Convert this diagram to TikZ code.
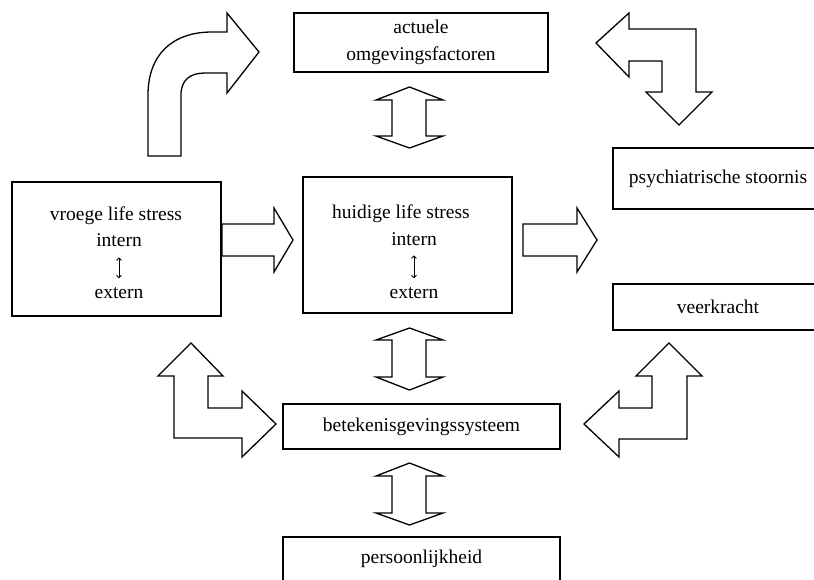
\documentclass[tikz,border=0pt]{standalone}
\usepackage{fontspec}
\setmainfont{Liberation Serif}
\usepackage{tikz}
\usetikzlibrary{calc}
\usetikzlibrary{arrows.meta}

\begin{document}
\begin{tikzpicture}[x=1pt,y=-1pt,
        box/.style={draw=black,line width=1.3pt,inner sep=0pt,align=center,font=\fontsize{19.5}{27}\selectfont},
        txt/.style={inner sep=0pt,anchor=base,font=\fontsize{19.5}{27}\selectfont},
        fat/.style={draw=black,line width=1.3pt,line join=miter},
        pijltje/.style={line width=0.8pt,{Straight Barb[length=2.5pt,width=5pt]}-{Straight Barb[length=2.5pt,width=5pt]}}]
            \useasboundingbox (0,0) rectangle (814,579);

            % Place the boxes
            \node[box,minimum width=254,minimum height=59] (omg) at (421,42.5) {actuele\\omgevingsfactoren};
            \node[box,minimum width=209,minimum height=134] (vroeg) at (116.5,249) {};
            \node[box,minimum width=209,minimum height=136] (huidig) at (407.5,245) {};
            \node[box,minimum width=210,minimum height=61] (psych) at (718,178.5) {psychiatrische stoornis};
            \node[box,minimum width=210,minimum height=46] (veer) at (718,307) {veerkracht};
            \node[box,minimum width=277,minimum height=45] (bet) at (421.5,426.5) {betekenisgevingssysteem};
            \node[box,minimum width=277,minimum height=44] (pers) at (421.5,559) {persoonlijkheid};

            % Text in the stress boxes
            \node[txt] (vtitel) at (116,220) {vroege life stress};
            \node[txt] (vin) at (119,246) {intern};
            \node[txt] (vex) at (119,298) {extern};
            \node[txt] (htitel) at (401,218) {huidige life stress};
            \node[txt] (hin) at (414,245) {intern};
            \node[txt] (hex) at (414,298) {extern};
            \draw[pijltje,shorten <=11pt,shorten >=8.5pt] (vin.south) -- (vex.north);
            \draw[pijltje,shorten <=10pt,shorten >=8.5pt] (hin.south) -- (hex.north);

            % The straight arrows
            \draw[fat] (222,224) -- (274,224) -- (274,208) -- (293,240) -- (274,272) -- (274,256) -- (222,256) -- cycle;
            \draw[fat] (523,224) -- (577,224) -- (577,208) -- (597,240) -- (577,272) -- (577,256) -- (523,256) -- cycle;
            \draw[fat] (409.5,87) -- (443,100) -- (426,100) -- (426,136) -- (443,136) -- (409.5,148) -- (376,136) -- (392,136) -- (392,100) -- (376,100) -- cycle;
            \draw[fat] (409.5,328) -- (443,340) -- (426,340) -- (426,377) -- (443,377) -- (409.5,390) -- (376,377) -- (392,377) -- (392,340) -- (376,340) -- cycle;
            \draw[fat] (409.5,463) -- (443,476) -- (426,476) -- (426,513) -- (443,513) -- (409.5,525) -- (376,513) -- (392,513) -- (392,476) -- (376,476) -- cycle;

            % The bent arrows
            \draw[fat] (148,156) -- (148,95) .. controls (148,55) and (172,32) .. (212,32) -- (227,32) -- (227,13) -- (259,52) -- (227,93) -- (227,73) -- (205,73) .. controls (190,73) and (181,80) .. (181,95) -- (181,156) -- cycle;
            \draw[fat] (596,43) -- (629,13) -- (629,29) -- (696,29) -- (696,92) -- (712,92) -- (679,125) -- (646,92) -- (662,92) -- (662,61) -- (629,61) -- (629,77) -- cycle;
            \draw[fat] (191,343) -- (223,376) -- (208,376) -- (208,408) -- (242,408) -- (242,391) -- (276,424) -- (242,457) -- (242,438) -- (174,438) -- (174,376) -- (158,376) -- cycle;
            \draw[fat] (669,343) -- (702,376) -- (687,376) -- (687,439) -- (619,439) -- (619,457) -- (584,424) -- (619,391) -- (619,408) -- (652,408) -- (652,376) -- (636,376) -- cycle;
        \end{tikzpicture}
\end{document}
